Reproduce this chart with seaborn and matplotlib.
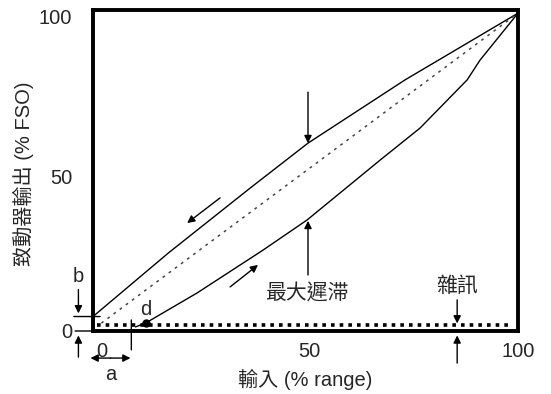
import matplotlib
matplotlib.use("Agg")
import matplotlib.pyplot as plt
import seaborn as sns
import numpy as np

# ---- data ----
upper_x = [-2, 16.1, 35.7, 49.6, 72.9, 100]
upper_y = [4.6, 24.8, 45.4, 59.7, 79.8, 101]
lower_x = [8.2, 10.6, 23.0, 38.8, 49.4, 66.9, 76.5, 87.8, 90.9, 100]
lower_y = [1.3, 2.5, 12.1, 25.7, 35.3, 54.3, 64.5, 79.8, 86.1, 101]
ideal_x = [0, 100]
ideal_y = [2.5, 101]
noise_x = [-1, 98]
noise_y = [1.9, 1.9]
x_ticks = [0, 50, 100]
x_tick_labels = ["0", "50", "100"]
y_ticks = [0, 49, 100]
y_tick_labels = ["0", "50", "100"]
x_minor = [23.3, 49.4, 75.3]
y_minor = [17.2, 48.6, 85.5]
d_point = (10.6, 2.5)

sns.set_theme(style="white")
plt.rcParams["font.family"] = ["Liberation Sans", "Noto Sans CJK TC"]

fig = plt.figure(figsize=(5.51, 3.94), dpi=100)
ax = fig.add_axes([93/551, 63/394, 425/551, 321/394])

sns.lineplot(x=upper_x, y=upper_y, ax=ax, color="black", lw=1.0, sort=False, estimator=None)
sns.lineplot(x=lower_x, y=lower_y, ax=ax, color="black", lw=1.0, sort=False, estimator=None)
sns.lineplot(x=ideal_x, y=ideal_y, ax=ax, color="#444444", lw=1.1, sort=False, estimator=None,
             linestyle=(0, (1.8, 3.2)))
sns.lineplot(x=noise_x, y=noise_y, ax=ax, color="black", lw=2.6, sort=False, estimator=None,
             linestyle=(0, (1, 1.4)))
ax.plot([d_point[0]], [d_point[1]], "o", color="black", ms=5)

ax.set_xlim(-2, 100)
ax.set_ylim(0, 102)

for s in ax.spines.values():
    s.set_linewidth(2.8)
    s.set_color("black")

ax.set_xticks(x_ticks)
ax.set_xticklabels(x_tick_labels, fontsize=14.5)
ax.set_yticks(y_ticks)
ax.set_yticklabels(y_tick_labels, fontsize=14.5)
ax.set_xticks(x_minor, minor=True)
ax.set_yticks(y_minor, minor=True)
ax.tick_params(axis="both", which="major", length=0)
ax.tick_params(axis="x", which="major", pad=8)
ax.tick_params(axis="y", which="major", pad=15)
ax.tick_params(axis="both", which="minor", direction="in", length=8, width=1, color="black")

ax.set_xlabel("輸入 (% range)", fontsize=14.5)
ax.set_ylabel("致動器輸出 (% FSO)", fontsize=14.5)
ax.xaxis.set_label_coords(0.499, -0.118)
ax.yaxis.set_label_coords(-0.138, 0.489)

arrow = dict(arrowstyle="-|>", color="black", lw=1.0, mutation_scale=11, shrinkA=0, shrinkB=0)
line = dict(arrowstyle="-", color="black", lw=1.0, shrinkA=0, shrinkB=0)

def arr(x0, y0, x1, y1, props=arrow):
    ax.annotate("", xy=(x1, y1), xytext=(x0, y0), xycoords="data", textcoords="data",
                arrowprops=props, annotation_clip=False)

# max hysteresis arrows
arr(49.6, 75.9, 49.6, 59.7)
arr(49.6, 17.8, 49.6, 35.0)
ax.text(49.2, 11.8, "最大遲滞", fontsize=15, ha="center", va="center")
# direction arrows
arr(28.5, 42.3, 20.6, 34.3)
arr(30.9, 14.0, 37.6, 21.0)
# noise
arr(85.4, 9.9, 85.4, 2.4)
arr(85.4, -10.2, 85.4, -1.4)
ax.text(85.4, 14.3, "雜訊", fontsize=15, ha="center", va="center")
# d
ax.text(10.6, 6.8, "d", fontsize=14.5, ha="center", va="center")
# a
arr(7.2, 3.5, 7.2, -6.0, line)
ax.annotate("", xy=(-2.6, -8.6), xytext=(2.2, -8.6), arrowprops=arrow, annotation_clip=False)
ax.annotate("", xy=(7.0, -8.6), xytext=(2.2, -8.6), arrowprops=arrow, annotation_clip=False)
ax.text(2.2, -13.8, "a", fontsize=14.5, ha="center", va="center")
# b
ax.text(-5.6, 17.2, "b", fontsize=14.5, ha="center", va="center")
arr(-5.5, 13.2, -5.5, 5.6)
arr(-6.6, 4.6, -0.3, 4.6, line)
# zero marker
arr(-6.3, 0, -2, 0, line)
arr(-5.5, -8.3, -5.5, -1.4)

fig.savefig("out.png", dpi=100)
